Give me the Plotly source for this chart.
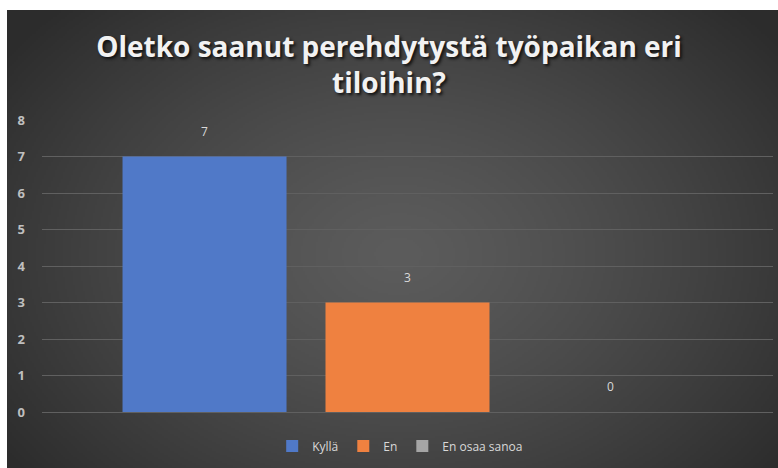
import base64, struct, zlib
import numpy as np
import plotly.graph_objects as go

categories = [""]
series_names = ["Kyllä", "En", "En osaa sanoa"]
series_values = [7, 3, 0]
series_colors = ["#5079c8", "#ef8140", "#a5a5a5"]
y_ticks = [0, 1, 2, 3, 4, 5, 6, 7, 8]


def png_data_uri(arr):
    h, w, _ = arr.shape
    raw = b"".join(b"\x00" + arr[r].astype(np.uint8).tobytes() for r in range(h))
    def chunk(t, d):
        c = struct.pack(">I", len(d)) + t + d
        return c + struct.pack(">I", zlib.crc32(t + d) & 0xFFFFFFFF)
    png = b"\x89PNG\r\n\x1a\n" + chunk(b"IHDR", struct.pack(">IIBBBBB", w, h, 8, 2, 0, 0, 0))
    png += chunk(b"IDAT", zlib.compress(raw, 9)) + chunk(b"IEND", b"")
    return "data:image/png;base64," + base64.b64encode(png).decode()


W, H = 386, 229
yy, xx = np.mgrid[0:H, 0:W]
d = np.sqrt(((xx - W * 0.5) / (W * 0.62)) ** 2 + ((yy - H * 0.52) / (H * 0.75)) ** 2)
d = np.clip(d, 0, 1)
v = 92 - (92 - 44) * d ** 1.3
img = np.stack([v, v, v], axis=-1)
bg_uri = png_data_uri(img)

fig = go.Figure()
for name, val, col in zip(series_names, series_values, series_colors):
    fig.add_trace(go.Bar(
        x=categories, y=[val], name=name,
        marker=dict(color=col, line=dict(width=0)),
        text=[f"{val}<br><span style='font-size:7px'> </span>"], textposition="outside",
        textfont=dict(color="#d9d9d9", size=12, family="Open Sans"),
        cliponaxis=False,
    ))

L, R, T, B = 42, 5, 120, 56
pw, ph = 778 - L - R, 468 - T - B

fig.add_layout_image(dict(
    source=bg_uri, xref="paper", yref="paper",
    x=(7 - L) / pw, y=(468 - B - 10) / ph,
    sizex=(778 - 7 + 10) / pw, sizey=(468 - 10 + 10) / ph,
    xanchor="left", yanchor="top", sizing="stretch", layer="below",
))

fig.update_layout(
    width=778, height=468,
    margin=dict(l=L, r=R, t=T, b=B, autoexpand=False),
    paper_bgcolor="white", plot_bgcolor="rgba(0,0,0,0)",
    barmode="group", bargap=0.167, bargroupgap=0.192,
    title=dict(
        text="Oletko saanut perehdytystä työpaikan eri<br>tiloihin?",
        x=0.5, xref="container", xanchor="center",
        y=(468 - 57) / 468, yanchor="middle",
        font=dict(family="Open Sans", size=28, color="#f2f2f2", weight="bold",
                  shadow="2px 2px 3px #111"),
    ),
    xaxis=dict(showticklabels=False, showgrid=False, zeroline=False, showline=False),
    yaxis=dict(range=[0, 8], tickvals=y_ticks, showgrid=True, gridcolor="#606060",
               gridwidth=1, zeroline=True, zerolinecolor="#606060", zerolinewidth=1,
               showline=False,
               tickfont=dict(family="Open Sans", size=13, color="#bfbfbf", weight="bold"),
               ticklabelstandoff=16),
    legend=dict(orientation="h", x=0.49, xanchor="center", y=-(446 - 412) / ph,
                yanchor="middle",
                font=dict(family="Open Sans", size=12, color="#d9d9d9"),
                itemwidth=30, bgcolor="rgba(0,0,0,0)"),
    showlegend=True,
)

fig.write_html("out.html", config={"displayModeBar": False},
               post_script="document.body.style.margin='0';document.body.style.overflow='hidden';document.documentElement.style.overflow='hidden';")
